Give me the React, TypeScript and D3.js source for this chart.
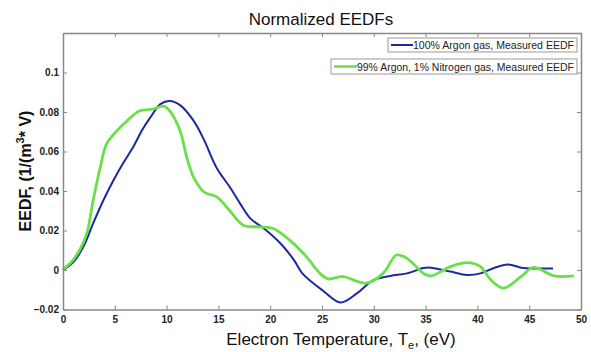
import React, { useEffect, useRef } from 'react';
import * as d3 from 'd3';

// 100% Argon gas, measured EEDF
const argonT = [0, 1, 1.96, 2.9, 3.9, 4.86, 5.8, 6.8, 7.6, 8.4, 9.4, 10.3, 11.3, 12.6, 13.6, 14.85, 16.1, 17.1, 18.1, 19.4, 21, 22.3, 23.1, 25.1, 26.8, 28.4, 30, 31.6, 33.2, 34.8, 35.5, 37.4, 39, 40.3, 41.6, 42.9, 44.4, 45.8, 47.3];
const argonE = [0, 0.004, 0.0117, 0.0235, 0.0353, 0.0453, 0.054, 0.0625, 0.0705, 0.077, 0.084, 0.0856, 0.0835, 0.0756, 0.066, 0.0515, 0.042, 0.0336, 0.026, 0.021, 0.0134, 0.005, -0.0017, -0.0105, -0.0165, -0.0117, -0.005, -0.003, -0.0017, 0.001, 0.0012, -0.0008, -0.0025, -0.0017, 0.001, 0.0028, 0.001, 0.0008, 0.0008];

// 99% Argon, 1% Nitrogen gas, measured EEDF
const nitroT = [0, 0.7, 1.6, 2.3, 2.9, 3.6, 4.2, 5.2, 6.2, 7.4, 8.7, 9.7, 10.3, 11.3, 11.95, 12.6, 13.6, 14.85, 16.1, 17.4, 19, 20.3, 21.9, 23.5, 24.8, 25.6, 27, 29.3, 30.9, 32.2, 33.2, 34.8, 35.5, 37.4, 39, 40.3, 41.3, 42.5, 44.2, 45.4, 47.4, 49.3];
const nitroE = [0.0005, 0.0034, 0.01, 0.0185, 0.035, 0.052, 0.0638, 0.0705, 0.0756, 0.0806, 0.0815, 0.083, 0.0806, 0.0705, 0.057, 0.047, 0.0395, 0.037, 0.03, 0.0227, 0.0218, 0.021, 0.015, 0.0067, -0.0017, -0.0045, -0.0034, -0.0067, -0.0017, 0.0076, 0.0059, -0.0017, -0.003, 0.0017, 0.0037, 0.0017, -0.005, -0.0092, -0.0034, 0.0013, -0.003, -0.003];

const xTicks = [0, 5, 10, 15, 20, 25, 30, 35, 40, 45, 50];
const yTicks = [-0.02, 0, 0.02, 0.04, 0.06, 0.08, 0.1];

const legendLabels = ['100% Argon gas, Measured EEDF', '99% Argon, 1% Nitrogen gas, Measured EEDF'];
const colors = ['#1c2a9c', '#6ae048'];

const W = 591;
const H = 352;
const margin = { top: 33, right: 10, bottom: 42.5, left: 63 };

const App: React.FC = () => {
  const svgRef = useRef<SVGSVGElement | null>(null);

  useEffect(() => {
    if (!svgRef.current) return;
    const svg = d3.select(svgRef.current);
    svg.selectAll('*').remove();

    const x = d3.scaleLinear().domain([0, 50]).range([margin.left, W - margin.right]);
    const y = d3.scaleLinear().domain([-0.02, 0.12]).range([H - margin.bottom, margin.top]);

    const axisColor = '#888';
    const font = 'Liberation Sans, Arial, sans-serif';

    // curves
    const line = d3.line<[number, number]>()
      .x((d) => x(d[0]))
      .y((d) => y(d[1]))
      .curve(d3.curveCatmullRom.alpha(0.5));

    svg.append('path')
      .datum(argonT.map((t, i) => [t, argonE[i]] as [number, number]))
      .attr('d', line)
      .attr('fill', 'none')
      .attr('stroke', colors[0])
      .attr('stroke-width', 2);

    svg.append('path')
      .datum(nitroT.map((t, i) => [t, nitroE[i]] as [number, number]))
      .attr('d', line)
      .attr('fill', 'none')
      .attr('stroke', colors[1])
      .attr('stroke-width', 2.8);

    // axes, ticks inward, box
    const bottom = svg.append('g').attr('transform', `translate(0,${y(-0.02)})`)
      .call(d3.axisBottom(x).tickValues(xTicks).tickSizeInner(-4).tickSizeOuter(0).tickPadding(6));
    const top = svg.append('g').attr('transform', `translate(0,${y(0.12)})`)
      .call(d3.axisTop(x).tickValues(xTicks).tickSizeInner(-4).tickSizeOuter(0).tickFormat(() => ''));
    const left = svg.append('g').attr('transform', `translate(${x(0)},0)`)
      .call(d3.axisLeft(y).tickValues(yTicks).tickSizeInner(-4).tickSizeOuter(0).tickPadding(4)
        .tickFormat((d) => (d as number) === 0 ? '0' : d3.format('')(+(d as number).toFixed(2))));
    const right = svg.append('g').attr('transform', `translate(${x(50)},0)`)
      .call(d3.axisRight(y).tickValues(yTicks).tickSizeInner(-4).tickSizeOuter(0).tickFormat(() => ''));

    [bottom, top, left, right].forEach((g) => {
      g.select('.domain').attr('stroke', axisColor).attr('stroke-width', 1.5);
      g.selectAll('.tick line').attr('stroke', axisColor).attr('stroke-width', 1);
      g.selectAll('.tick text')
        .attr('fill', '#222')
        .style('font-family', font)
        .style('font-size', '10px')
        .style('font-weight', 'bold');
    });

    // legend boxes
    const legendBoxes = [
      { x0: 388, y0: 38, x1: 577, y1: 52 },
      { x0: 331, y0: 59, x1: 577, y1: 74 },
    ];
    legendBoxes.forEach((b, i) => {
      const g = svg.append('g');
      g.append('rect')
        .attr('x', b.x0).attr('y', b.y0)
        .attr('width', b.x1 - b.x0).attr('height', b.y1 - b.y0)
        .attr('fill', 'white').attr('stroke', '#999').attr('stroke-width', 1);
      const cy = (b.y0 + b.y1) / 2;
      const lineEnd = i === 0 ? b.x0 + 25 : b.x0 + 26;
      g.append('line')
        .attr('x1', b.x0 + 3).attr('x2', lineEnd)
        .attr('y1', cy).attr('y2', cy)
        .attr('stroke', colors[i]).attr('stroke-width', i === 0 ? 2 : 2.5);
      g.append('text')
        .attr('x', lineEnd).attr('y', cy + 4)
        .attr('textLength', b.x1 - 3 - lineEnd)
        .attr('lengthAdjust', 'spacingAndGlyphs')
        .style('font-family', font).style('font-size', '11px')
        .attr('fill', '#222')
        .text(legendLabels[i]);
    });

    // title
    svg.append('text')
      .attr('x', 321).attr('y', 25)
      .attr('text-anchor', 'middle')
      .style('font-family', font).style('font-size', '17px')
      .attr('fill', '#111')
      .text('Normalized EEDFs');

    // x label
    const xl = svg.append('text')
      .attr('x', 341).attr('y', 345)
      .attr('text-anchor', 'middle')
      .style('font-family', font).style('font-size', '17px')
      .attr('fill', '#111');
    xl.append('tspan').text('Electron Temperature, T');
    xl.append('tspan').attr('dy', 4).style('font-size', '11px').text('e');
    xl.append('tspan').attr('dy', -4).text(', (eV)');

    // y label
    const yl = svg.append('text')
      .attr('transform', `translate(31,171) rotate(-90)`)
      .attr('text-anchor', 'middle')
      .style('font-family', font).style('font-size', '16px')
      .style('font-weight', 'bold')
      .attr('fill', '#111');
    yl.append('tspan').text('EEDF, (1/(m');
    yl.append('tspan').attr('dy', -7).style('font-size', '11px').text('3');
    yl.append('tspan').attr('dy', 7).text('* V)');

    return () => { svg.selectAll('*').remove(); };
  }, []);

  return (
    <svg
      ref={svgRef}
      width={W}
      height={H}
      style={{ position: 'absolute', left: 0, top: 0, background: 'white' }}
    />
  );
};

export default App;
